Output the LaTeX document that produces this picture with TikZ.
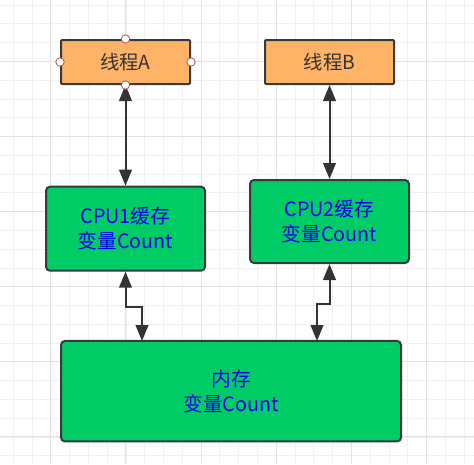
\documentclass[tikz,border=0pt]{standalone}
\usepackage{fontspec}
\setmainfont{Noto Sans CJK SC}
\usetikzlibrary{arrows.meta,calc}
\definecolor{gridminor}{RGB}{240,240,240}
\definecolor{gridmajor}{RGB}{226,226,226}
\definecolor{boxorange}{HTML}{FFB366}
\definecolor{boxgreen}{HTML}{00CC66}
\definecolor{edgegray}{HTML}{36393D}
\definecolor{txtgray}{HTML}{333333}
\definecolor{txtblue}{RGB}{0,0,235}
\definecolor{handlered}{HTML}{B85450}
\tikzset{
  threadbox/.style={draw=edgegray, line width=1.5pt, fill=boxorange, text=txtgray,
    rounded corners=0.8pt, inner sep=0pt, minimum width=96.75pt, minimum height=33pt,
    font=\fontsize{14.5pt}{18pt}\selectfont, align=center},
  cachebox/.style={draw=edgegray, line width=1.5pt, fill=boxgreen, text=txtblue,
    rounded corners=3pt, inner sep=0pt, minimum width=119.25pt,
    font=\fontsize{14.8pt}{18.5pt}\selectfont, align=center},
  link/.style={draw=txtgray, line width=1.5pt,
    {Triangle[length=12pt,width=9.5pt]}-{Triangle[length=12pt,width=9.5pt]}},
  handle/.style={circle, draw=handlered, fill=white, line width=0.6pt,
    inner sep=0pt, minimum size=6.3pt},
}
\begin{document}
\begin{tikzpicture}[x=0.75pt,y=-0.75pt]
\useasboundingbox (0,0) rectangle (474,464);
\fill[white] (0,0) rectangle (474,464);
% grid
\foreach \k in {0,...,24}{
  \pgfmathsetmacro{\gx}{13.3+18.78*\k}
  \pgfmathsetmacro{\gy}{5+18.78*\k}
  \draw[gridminor, line width=0.6pt] (\gx,0) -- (\gx,464);
  \draw[gridminor, line width=0.6pt] (0,\gy) -- (474,\gy);
}
\foreach \k in {2,6,...,22}{
  \pgfmathsetmacro{\gx}{13.3+18.78*\k}
  \draw[gridmajor, line width=0.75pt] (\gx,0) -- (\gx,464);
}
\foreach \k in {3,7,...,23}{
  \pgfmathsetmacro{\gy}{5+18.78*\k}
  \draw[gridmajor, line width=0.75pt] (0,\gy) -- (474,\gy);
}
% boxes
\node[threadbox] (A) at (125.5,62) {线程A};
\node[threadbox] (B) at (329.5,62) {线程B};
\node[cachebox, minimum height=63pt] (C1) at (125.5,228.7) {CPU1缓存\\变量Count};
\node[cachebox, minimum height=62.25pt] (C2) at (329.5,221.5) {CPU2缓存\\变量Count};
\node[cachebox, minimum width=255pt, minimum height=75.4pt] (M) at (231,391.2) {内存\\变量Count};
% connectors
\coordinate (m1) at (142,341);
\coordinate (m2) at (317,341);
\draw[link] (A) -- (C1);
\draw[link] (B) -- (C2);
\draw[link] (C1.south) -- ++(0,35.5) -| (m1);
\draw[link] (C2.south) -- ++(0,39.5) -| (m2);
% selection handles on 线程A
\node[handle] (hn) at (A.north) {};
\node[handle] (hs) at (A.south) {};
\node[handle] (hw) at (A.west) {};
\node[handle] (he) at (A.east) {};
\end{tikzpicture}
\end{document}
